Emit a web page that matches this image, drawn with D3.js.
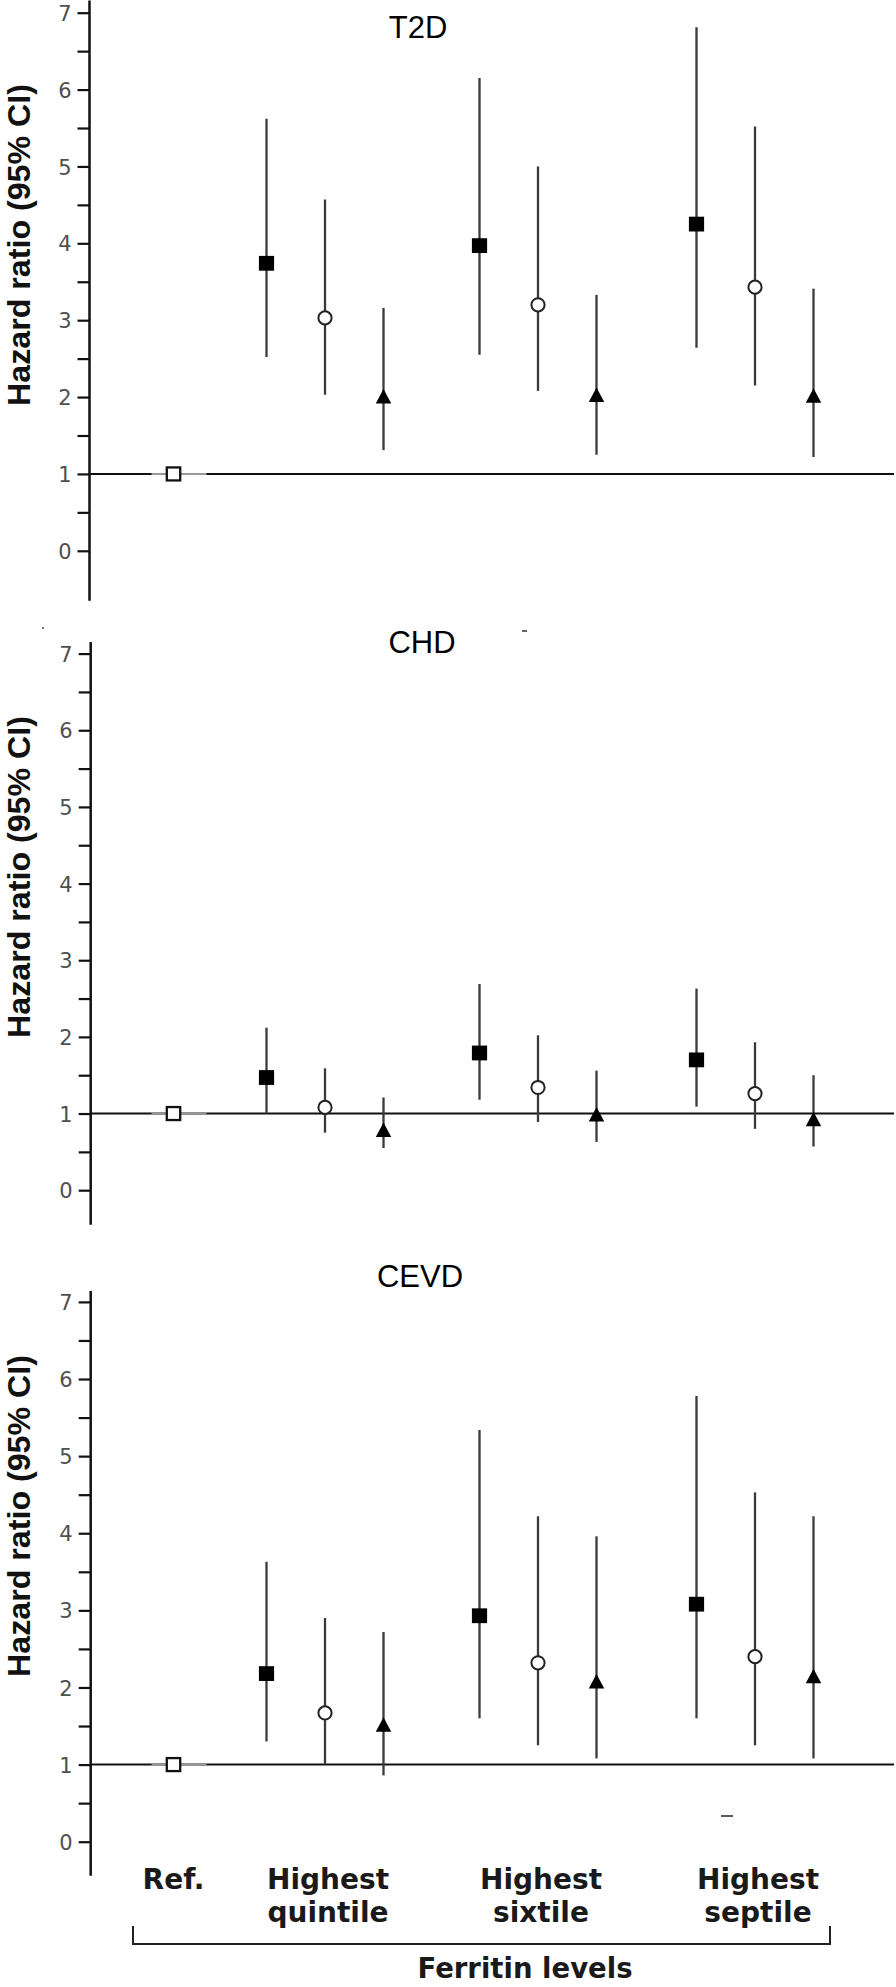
<!DOCTYPE html>
<html><head><meta charset="utf-8">
<script src="https://cdn.jsdelivr.net/npm/d3@7"></script>
<style>html,body{margin:0;padding:0;background:#fff;} svg{display:block;}</style>
</head><body><svg id="chart" width="896" height="1987"></svg>
<script>
// ---------- data ----------
const panels = ["T2D", "CHD", "CEVD"];
const categories = ["Ref.", "Highest quintile", "Highest sixtile", "Highest septile"];
const groups = categories.slice(1);
const seriesNames = ["Model 1", "Model 2", "Model 3"];   // square, circle, triangle
const yTickValues = [0, 1, 2, 3, 4, 5, 6, 7];
const yMinorTicks = [0.5, 1.5, 2.5, 3.5, 4.5, 5.5, 6.5];
const refHR = 1;
const xAxisTitle = "Ferritin levels";
const yAxisTitle = "Hazard ratio (95% CI)";

// hazard ratios: rows = groups (quintile, sixtile, septile), cols = series
const t2dHR = [[3.74, 3.03, 2.01], [3.97, 3.20, 2.03], [4.25, 3.43, 2.02]];
const t2dLo = [[2.52, 2.03, 1.31], [2.55, 2.08, 1.25], [2.64, 2.15, 1.22]];
const t2dHi = [[5.62, 4.57, 3.16], [6.15, 5.00, 3.33], [6.81, 5.52, 3.41]];

const chdHR = [[1.47, 1.08, 0.79], [1.79, 1.34, 0.99], [1.70, 1.26, 0.93]];
const chdLo = [[1.00, 0.75, 0.55], [1.18, 0.89, 0.63], [1.09, 0.80, 0.57]];
const chdHi = [[2.12, 1.59, 1.21], [2.69, 2.02, 1.56], [2.63, 1.93, 1.50]];

const cevdHR = [[2.18, 1.67, 1.52], [2.93, 2.32, 2.08], [3.08, 2.40, 2.15]];
const cevdLo = [[1.30, 1.00, 0.86], [1.60, 1.25, 1.08], [1.60, 1.25, 1.08]];
const cevdHi = [[3.63, 2.90, 2.72], [5.34, 4.22, 3.96], [5.78, 4.53, 4.22]];

const panelData = [
  { name: panels[0], hr: t2dHR, lo: t2dLo, hi: t2dHi },
  { name: panels[1], hr: chdHR, lo: chdLo, hi: chdHi },
  { name: panels[2], hr: cevdHR, lo: cevdLo, hi: cevdHi }
];

// ---------- layout ----------
const svg = d3.select("#chart");
svg.append("rect").attr("width", 896).attr("height", 1987).attr("fill", "#fff");

const layout = [
  { y7: 12.7,   y0: 550.8,  axisX: 89.5, axTop: 7.16, axBot: -0.65, titleX: 418, titleDy: 25,  labelY: 245 },
  { y7: 653.6,  y0: 1190.2, axisX: 90.7, axTop: 7.15, axBot: -0.45, titleX: 422, titleDy: -1,  labelY: 877 },
  { y7: 1301.9, y0: 1841.7, axisX: 90.7, axTop: 7.14, axBot: -0.44, titleX: 420, titleDy: -15, labelY: 1516 }
];

const catX = d3.scaleOrdinal().domain(categories).range([173.5, 325, 538, 755]);
const seriesOffset = d3.scalePoint().domain(seriesNames).range([-58.5, 58.5]);

const tickFont = "'DejaVu Sans', Verdana, sans-serif";
const boldLabelFont = "'DejaVu Sans', Verdana, sans-serif";
const arialFont = "'Liberation Sans', Arial, sans-serif";

panelData.forEach((p, pi) => {
  const L = layout[pi];
  const y = d3.scaleLinear().domain([0, 7]).range([L.y0, L.y7]);
  const g = svg.append("g");

  // axis line
  g.append("line")
    .attr("x1", L.axisX).attr("x2", L.axisX)
    .attr("y1", y(L.axTop)).attr("y2", y(L.axBot))
    .attr("stroke", "#111").attr("stroke-width", 2.5);

  // major ticks + labels
  const axis = d3.axisLeft(y).tickValues(yTickValues).tickSize(12).tickPadding(6)
    .tickFormat(d3.format("d"));
  const ax = g.append("g").attr("transform", `translate(${L.axisX},0)`).call(axis);
  ax.select(".domain").remove();
  ax.selectAll(".tick line").attr("stroke", "#111").attr("stroke-width", 2.2);
  ax.selectAll(".tick text")
    .attr("font-family", tickFont).attr("font-size", 21).attr("fill", "#505050")
    .attr("dy", "0.36em");

  // minor ticks
  const axMinor = d3.axisLeft(y).tickValues(yMinorTicks).tickSize(12).tickFormat("");
  const am = g.append("g").attr("transform", `translate(${L.axisX},0)`).call(axMinor);
  am.select(".domain").remove();
  am.selectAll(".tick line").attr("stroke", "#111").attr("stroke-width", 2.2);

  // reference line at HR = 1
  const refX = catX(categories[0]);
  g.append("line")
    .attr("x1", L.axisX).attr("x2", 894)
    .attr("y1", y(refHR)).attr("y2", y(refHR))
    .attr("stroke", "#111").attr("stroke-width", 2);
  g.append("line")
    .attr("x1", refX - 22).attr("x2", refX + 33)
    .attr("y1", y(refHR)).attr("y2", y(refHR))
    .attr("stroke", "#9a9a9a").attr("stroke-width", 2);

  // y axis title
  g.append("text")
    .attr("transform", `translate(30,${L.labelY}) rotate(-90)`)
    .attr("text-anchor", "middle")
    .attr("font-family", arialFont).attr("font-weight", "bold")
    .attr("font-size", 31).attr("fill", "#111")
    .attr("textLength", 322).attr("lengthAdjust", "spacingAndGlyphs")
    .text(yAxisTitle);

  // panel title
  g.append("text")
    .attr("x", L.titleX).attr("y", y(7) + L.titleDy)
    .attr("text-anchor", "middle")
    .attr("font-family", arialFont).attr("font-size", 31).attr("fill", "#000")
    .text(p.name);

  // points
  const pts = [];
  groups.forEach((grp, gi) => {
    seriesNames.forEach((s, si) => {
      pts.push({ x: catX(grp) + seriesOffset(s), hr: p.hr[gi][si], lo: p.lo[gi][si], hi: p.hi[gi][si], s: si });
    });
  });

  // error bars
  g.selectAll(".ci").data(pts).enter().append("line")
    .attr("x1", d => d.x).attr("x2", d => d.x)
    .attr("y1", d => y(d.lo)).attr("y2", d => y(d.hi))
    .attr("stroke", "#3a3a3a").attr("stroke-width", 2.3);

  // markers
  pts.forEach(d => {
    const cx = d.x, cy = y(d.hr);
    if (d.s === 0) {
      g.append("rect").attr("x", cx - 7.6).attr("y", cy - 7.4).attr("width", 15.2).attr("height", 14.8)
        .attr("fill", "#000");
    } else if (d.s === 1) {
      g.append("circle").attr("cx", cx).attr("cy", cy).attr("r", 6.6)
        .attr("fill", "#fff").attr("stroke", "#222").attr("stroke-width", 2);
    } else {
      const w = 15.5, h = 14.5;
      g.append("path")
        .attr("d", `M${cx},${cy - h / 2}L${cx + w / 2},${cy + h / 2}L${cx - w / 2},${cy + h / 2}Z`)
        .attr("fill", "#000");
    }
  });

  // reference (open square)
  g.append("rect").attr("x", refX - 6.7).attr("y", y(refHR) - 6.5).attr("width", 13.4).attr("height", 13)
    .attr("fill", "#fff").attr("stroke", "#111").attr("stroke-width", 2.3);
});

// small stray marks present in the original figure
svg.append("rect").attr("x", 42).attr("y", 627).attr("width", 2).attr("height", 2).attr("fill", "#777");
svg.append("line").attr("x1", 522).attr("x2", 527).attr("y1", 631).attr("y2", 631).attr("stroke", "#333").attr("stroke-width", 1.5);
svg.append("line").attr("x1", 721).attr("x2", 733).attr("y1", 1816).attr("y2", 1816).attr("stroke", "#222").attr("stroke-width", 1.5);

// ---------- bottom category labels ----------
const labelLines = categories.map(c => c.startsWith("Highest ") ? ["Highest", c.slice(8)] : [c]);
const line1Y = 1889, line2Y = 1922;
categories.forEach((c, i) => {
  const t = svg.append("text")
    .attr("text-anchor", "middle")
    .attr("font-family", boldLabelFont).attr("font-weight", "bold")
    .attr("font-size", 28).attr("fill", "#1a1a1a");
  labelLines[i].forEach((ln, li) => {
    t.append("tspan").attr("x", catX(c) + (i === 0 ? 0 : 3)).attr("y", li === 0 ? line1Y : line2Y).text(ln);
  });
});

// bracket
const brL = 133, brR = 830, brY = 1944, brTop = 1926;
svg.append("path")
  .attr("d", `M${brL},${brTop}V${brY}H${brR}V${brTop}`)
  .attr("fill", "none").attr("stroke", "#222").attr("stroke-width", 2);

svg.append("text")
  .attr("x", 525).attr("y", 1978).attr("text-anchor", "middle")
  .attr("font-family", boldLabelFont).attr("font-weight", "bold")
  .attr("font-size", 27.5).attr("fill", "#1a1a1a")
  .text(xAxisTitle);
</script>
</body></html>
